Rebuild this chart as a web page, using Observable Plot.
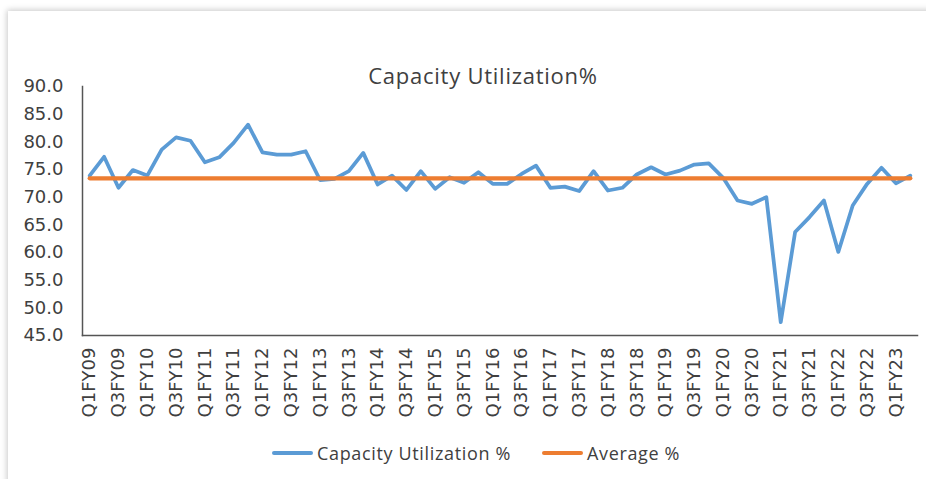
<!DOCTYPE html>
<html>
<head>
<meta charset="utf-8">
<script src="https://cdn.jsdelivr.net/npm/d3@7"></script>
<script src="https://cdn.jsdelivr.net/npm/@observablehq/plot@0.6"></script>
<style>
html, body { margin: 0; padding: 0; background: #fff; width: 926px; height: 479px; overflow: hidden; }
#frame { position: absolute; left: 8px; top: 11px; width: 1000px; height: 600px; background: #fff; box-shadow: -1px -1px 6px rgba(0,0,0,0.22); }
#title { position: absolute; left: 283px; width: 400px; top: 64px; text-align: center; font-family: "Open Sans", sans-serif; font-size: 22px; line-height: 22px; letter-spacing: 0.75px; color: #404040; }
#chart { position: absolute; left: 0; top: 60px; }
.leg { position: absolute; top: 441px; height: 24px; display: flex; align-items: center; font-family: "Open Sans", sans-serif; font-size: 18px; letter-spacing: 0.65px; color: #404040; white-space: nowrap; }
.leg .sw { width: 41px; height: 4px; margin-right: 4px; border-radius: 2px; }
svg text { font-family: "DejaVu Sans", Verdana, sans-serif; }
</style>
</head>
<body>
<div id="frame"></div>
<div id="title">Capacity Utilization%</div>
<div id="chart"></div>
<div class="leg" style="left:272px"><span class="sw" style="background:#5B9BD5"></span><span>Capacity Utilization %</span></div>
<div class="leg" style="left:542px"><span class="sw" style="background:#ED7D31"></span><span>Average %</span></div>
<script>
// Fiscal years and quarters (categories)
const fiscalYears = ["09","10","11","12","13","14","15","16","17","18","19","20","21","22","23"];
const quarterNames = ["Q1","Q2","Q3","Q4"];
const quarters = fiscalYears.flatMap(fy => quarterNames.map(q => q + "FY" + fy)).slice(0, 58);

// Capacity utilization % per quarter (Q1FY09 .. Q2FY23)
const capacityUtilization = [
  73.9, 77.3, 71.7, 74.9, 73.9, 78.6, 80.8, 80.2, 76.3, 77.2,
  79.8, 83.1, 78.1, 77.7, 77.7, 78.3, 73.1, 73.3, 74.7, 78.0,
  72.3, 73.9, 71.3, 74.7, 71.5, 73.6, 72.6, 74.5, 72.4, 72.4,
  74.2, 75.7, 71.7, 71.9, 71.1, 74.7, 71.2, 71.7, 74.1, 75.4,
  74.1, 74.8, 75.9, 76.1, 73.5, 69.4, 68.8, 70.0, 47.4, 63.7,
  66.4, 69.4, 60.1, 68.5, 72.4, 75.3, 72.5, 73.9
];

// Average %
const averageValue = 73.4;

// Tick labels
const xTickLabels = [
  "Q1FY09","Q3FY09","Q1FY10","Q3FY10","Q1FY11","Q3FY11","Q1FY12","Q3FY12",
  "Q1FY13","Q3FY13","Q1FY14","Q3FY14","Q1FY15","Q3FY15","Q1FY16","Q3FY16",
  "Q1FY17","Q3FY17","Q1FY18","Q3FY18","Q1FY19","Q3FY19","Q1FY20","Q3FY20",
  "Q1FY21","Q3FY21","Q1FY22","Q3FY22","Q1FY23"
];
const yTicks = [45, 50, 55, 60, 65, 70, 75, 80, 85, 90];

const rows = quarters.map((q, i) => ({q, cu: capacityUtilization[i], avg: averageValue}));

const plot = Plot.plot({
  width: 926,
  height: 360,
  marginLeft: 82,
  marginRight: 9,
  marginTop: 26,
  marginBottom: 85,
  style: {fontFamily: "'DejaVu Sans'", fontSize: "18px", color: "#404040", background: "transparent", overflow: "visible"},
  x: {type: "point", domain: quarters, padding: 0.5, round: false, label: null, axis: null},
  y: {domain: [45, 90], label: null, axis: null},
  marks: [
    Plot.axisY({ticks: yTicks, tickFormat: d => d.toFixed(1), tickSize: 0, tickPadding: 19, label: null, fontSize: 18, fontFamily: "DejaVu Sans"}),
    Plot.axisX({ticks: xTickLabels, tickSize: 0, tickRotate: -90, tickPadding: 12, label: null, fontSize: 18, fontFamily: "DejaVu Sans"}),
    Plot.frame({anchor: "left", stroke: "#555", strokeWidth: 1.5}),
    Plot.frame({anchor: "bottom", stroke: "#555", strokeWidth: 1.5}),
    Plot.line(rows, {x: "q", y: "cu", stroke: "#5B9BD5", strokeWidth: 3.75, strokeLinejoin: "round", strokeLinecap: "round"}),
    Plot.line(rows, {x: "q", y: "avg", stroke: "#ED7D31", strokeWidth: 4.25})
  ]
});
document.getElementById("chart").appendChild(plot);
</script>
</body>
</html>
